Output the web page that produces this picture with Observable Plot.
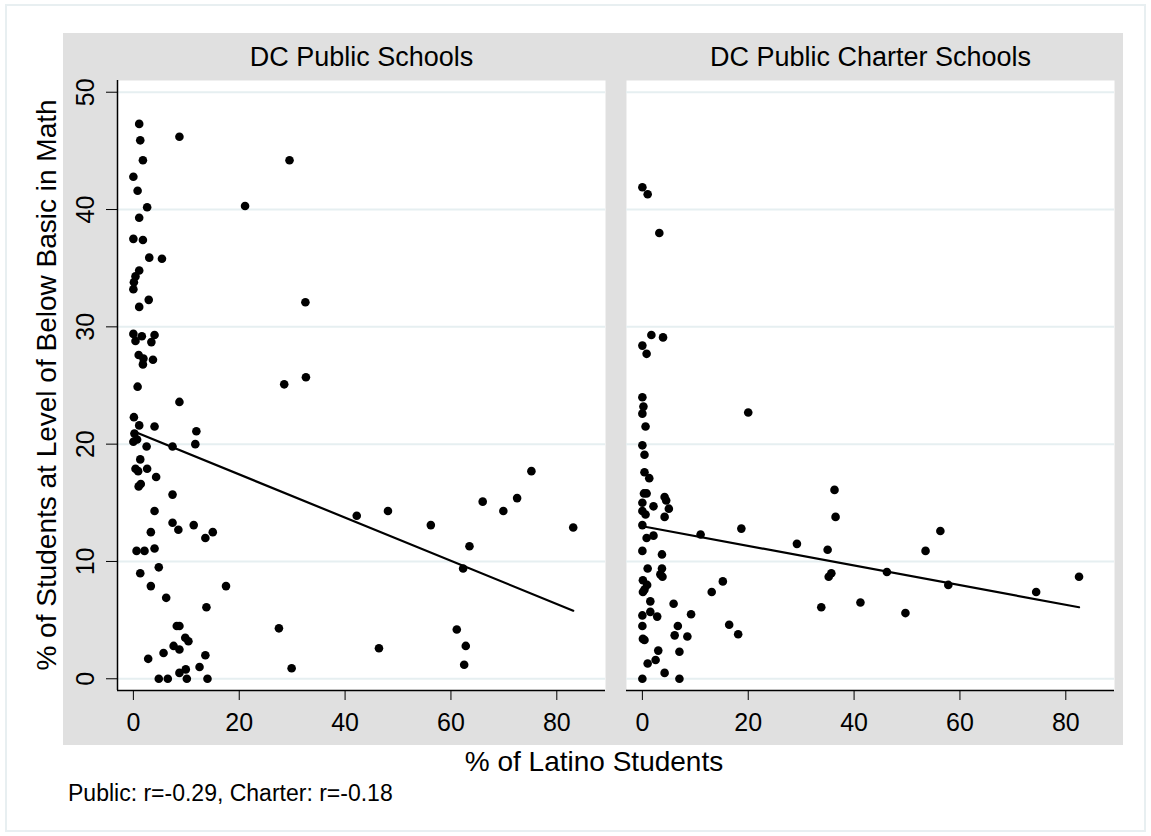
<!DOCTYPE html>
<html><head><meta charset="utf-8">
<script src="https://cdn.jsdelivr.net/npm/d3@7"></script>
<script src="https://cdn.jsdelivr.net/npm/@observablehq/plot@0.6"></script>
<style>
body{margin:0;background:#fff;font-family:Arial,"Liberation Sans",sans-serif;color:#000;}
#page{position:relative;width:1151px;height:836px;overflow:hidden;}
#border{position:absolute;left:5px;top:4px;width:1141px;height:828px;border:2px solid #e8eff1;box-sizing:border-box;}
#chart{position:absolute;left:63px;top:33px;}
#ytitle{position:absolute;left:47px;top:385px;transform:translate(-50%,-50%) rotate(-90deg);font-size:28px;white-space:nowrap;}
#xtitle{position:absolute;left:594px;top:762px;transform:translate(-50%,-50%);font-size:28px;white-space:nowrap;}
#caption{position:absolute;left:68px;top:793px;transform:translateY(-50%);font-size:23px;white-space:nowrap;}
</style></head>
<body><div id="page"><div id="border"></div><div id="chart"></div>
<div id="ytitle">% of Students at Level of Below Basic in Math</div>
<div id="xtitle">% of Latino Students</div>
<div id="caption">Public: r=-0.29, Charter: r=-0.18</div>
</div>
<script>
const panels = ["DC Public Schools", "DC Public Charter Schools"];
const xTicks = [0, 20, 40, 60, 80];
const yTicks = [0, 10, 20, 30, 40, 50];

const publicLatino = [1.1,1.3,8.7,1.8,0.0,0.8,2.6,1.1,0.0,1.8,3.0,5.4,1.1,0.4,0.1,0.0,2.9,1.1,0.0,0.4,1.6,4.0,3.4,1.0,1.9,1.8,3.7,0.8,8.7,0.1,1.1,4.0,11.9,0.2,0.7,0.0,2.5,7.4,11.7,1.3,0.4,2.6,0.9,4.3,1.4,1.0,7.4,4.0,7.4,8.5,11.4,3.3,13.6,15.0,0.6,2.1,4.0,4.8,1.3,3.3,17.5,6.2,13.8,8.2,8.7,9.8,10.4,7.6,8.7,5.7,13.6,2.8,12.5,9.9,8.7,4.8,6.5,10.1,14.0,21.1,29.5,32.5,32.6,28.5,42.2,48.1,56.2,66.0,69.9,72.5,75.2,83.1,63.5,62.3,27.5,29.9,46.4,61.1,62.8,62.5];
const publicBelowBasic = [47.3,45.9,46.2,44.2,42.8,41.6,40.2,39.3,37.5,37.4,35.9,35.8,34.8,34.3,33.8,33.2,32.3,31.7,29.4,28.8,29.2,29.3,28.7,27.6,27.3,26.8,27.2,24.9,23.6,22.3,21.6,21.5,21.1,20.9,20.4,20.2,19.8,19.8,20.0,18.7,17.9,17.9,17.7,17.2,16.6,16.4,15.7,14.3,13.3,12.7,13.1,12.5,12.0,12.5,10.9,10.9,11.1,9.5,9.0,7.9,7.9,6.9,6.1,4.5,4.5,3.5,3.2,2.8,2.5,2.2,2.0,1.7,1.0,0.8,0.5,0.0,0.0,0.0,0.0,40.3,44.2,32.1,25.7,25.1,13.9,14.3,13.1,15.1,14.3,15.4,17.7,12.9,11.3,9.4,4.3,0.9,2.6,4.2,2.8,1.2];

const charterLatino = [0.0,1.0,3.2,1.7,3.9,0.0,0.8,0.0,0.2,0.0,20.0,0.6,0.0,0.4,0.4,1.3,0.3,0.8,4.2,4.5,0.0,2.1,5.0,0.0,0.6,4.2,0.0,18.7,11.0,2.1,0.8,0.0,3.7,1.0,3.7,0.1,3.4,3.8,0.9,0.1,0.4,15.2,13.1,1.5,5.9,0.0,1.5,2.8,9.2,0.0,6.7,6.1,8.5,16.4,18.1,0.1,0.4,3.0,7.0,2.5,1.0,4.2,0.0,7.0,36.3,36.5,29.2,35.0,56.3,53.5,46.2,35.7,35.2,57.8,82.5,74.4,33.8,41.2,49.7];
const charterBelowBasic = [41.9,41.3,38.0,29.3,29.1,28.4,27.7,24.0,23.2,22.6,22.7,21.5,19.9,19.1,17.6,17.1,15.8,15.8,15.5,15.2,15.0,14.7,14.5,14.3,14.0,13.8,13.1,12.8,12.3,12.2,12.0,10.9,10.6,9.4,9.4,8.4,8.9,8.7,8.0,7.4,7.6,8.3,7.4,6.6,6.4,5.4,5.7,5.3,5.5,4.5,4.5,3.7,3.6,4.6,3.8,3.4,3.3,2.4,2.3,1.6,1.3,0.5,0.0,0.0,16.1,13.8,11.5,11.0,12.6,10.9,9.1,9.0,8.7,8.0,8.7,7.4,6.1,6.5,5.6];

// fitted regression lines (endpoints)
const publicFitX = [0, 83.1];
const publicFitY = [21.1, 5.8];
const charterFitX = [0, 82.5];
const charterFitY = [13.0, 6.1];

const points = [
  ...publicLatino.map((x, i) => ({panel: panels[0], x, y: publicBelowBasic[i]})),
  ...charterLatino.map((x, i) => ({panel: panels[1], x, y: charterBelowBasic[i]}))
];
const fits = [
  ...publicFitX.map((x, i) => ({panel: panels[0], x, y: publicFitY[i]})),
  ...charterFitX.map((x, i) => ({panel: panels[1], x, y: charterFitY[i]}))
];
const xDomain = [-3, 89.2];
const yDomain = [-1, 51];

const chart = Plot.plot({
  width: 1060, height: 712,
  marginLeft: 54, marginRight: 8, marginTop: 47, marginBottom: 55,
  style: {background: "#e0e0e0", fontFamily: "Arial, 'Liberation Sans', sans-serif", fontSize: "25px", color: "#000", overflow: "visible"},
  fx: {domain: panels, axis: null, paddingInner: 0.0412, paddingOuter: 0},
  x: {domain: xDomain, label: null},
  y: {domain: yDomain, label: null},
  marks: [
    Plot.frame({fill: "#fff", stroke: null}),
    Plot.gridY(yTicks, {stroke: "#e6eff1", strokeOpacity: 1, strokeWidth: 2}),
    Plot.ruleY([yDomain[0]], {stroke: "#000", strokeWidth: 1.5}),
    Plot.ruleX([xDomain[0]], {fx: [panels[0]], stroke: "#000", strokeWidth: 1.5}),
    Plot.axisX(xTicks, {tickSize: 10, tickPadding: 13, fontSize: 25, label: null, tickFormat: d => String(d)}),
    Plot.axisY(yTicks, {tickSize: 11, label: null, tickFormat: () => ""}),
    Plot.text(yTicks, {y: d => d, fx: yTicks.map(() => panels[0]), text: d => String(d), frameAnchor: "left", dx: -32, rotate: -90, textAnchor: "middle", lineAnchor: "middle", fontSize: 25}),
    Plot.text(panels, {fx: d => d, text: d => d, frameAnchor: "top", dy: -23, lineAnchor: "middle", fontSize: 27}),
    Plot.dot(points, {x: "x", y: "y", fx: "panel", r: 4.3, fill: "#000", stroke: null}),
    Plot.line(fits, {x: "x", y: "y", fx: "panel", z: "panel", stroke: "#000", strokeWidth: 2.2})
  ]
});
document.getElementById("chart").appendChild(chart);
</script>
</body></html>
